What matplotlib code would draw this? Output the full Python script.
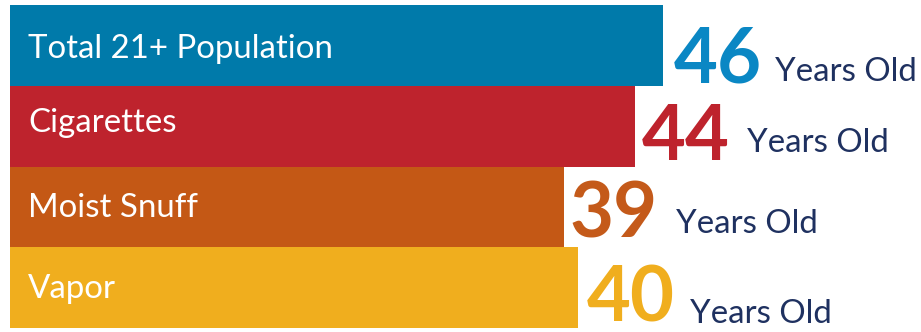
import matplotlib
matplotlib.use("Agg")
import matplotlib.pyplot as plt

# Median age by product
categories = ["Total 21+ Population", "Cigarettes", "Moist Snuff", "Vapor"]
ages = [46, 44, 39, 40]
unit_label = "Years Old"

bar_colors = ["#007AAA", "#BE232D", "#C45815", "#F0AE1E"]
number_colors = ["#0A87C4", "#BE232D", "#C45A1A", "#F0AE1E"]
unit_color = "#1F3160"

# per-row baseline offsets (pixels below the bar centre)
label_base = [13, 6, 10, 10]
number_base = [37, 34, 31, 34]
unit_base = [36, 26, 26, 35]
number_gap = [11, 7, 6, 9]

W, H, DPI = 921, 332, 72
fig = plt.figure(figsize=(W / DPI, H / DPI), dpi=DPI)
ax = fig.add_axes([0, 0, 1, 1])

px_per_unit = 14.2
x0_px = 10
ax.set_xlim(-x0_px / px_per_unit, (W - x0_px) / px_per_unit)
row_px = 80.75
top_px = 45.4
ax.set_ylim((H - top_px) / row_px, -top_px / row_px)
ax.axis("off")

ys = list(range(len(categories)))
ax.barh(ys, ages, height=1.0, left=0, color=bar_colors, edgecolor="none")

font = "Lato"
for i, (cat, age) in enumerate(zip(categories, ages)):
    ax.annotate(cat, xy=(0, i), xytext=(18, -label_base[i]),
                textcoords="offset points", ha="left", va="baseline",
                color="white", fontsize=33, family=font)
    ax.annotate(str(age), xy=(age, i), xytext=(number_gap[i], -number_base[i]),
                textcoords="offset points", ha="left", va="baseline",
                color=number_colors[i], fontsize=76, fontweight="bold", family=font)
    ax.annotate(unit_label, xy=(age, i), xytext=(112, -unit_base[i]),
                textcoords="offset points", ha="left", va="baseline",
                color=unit_color, fontsize=33, family=font)

fig.savefig("out.png", dpi=DPI, facecolor="white")
